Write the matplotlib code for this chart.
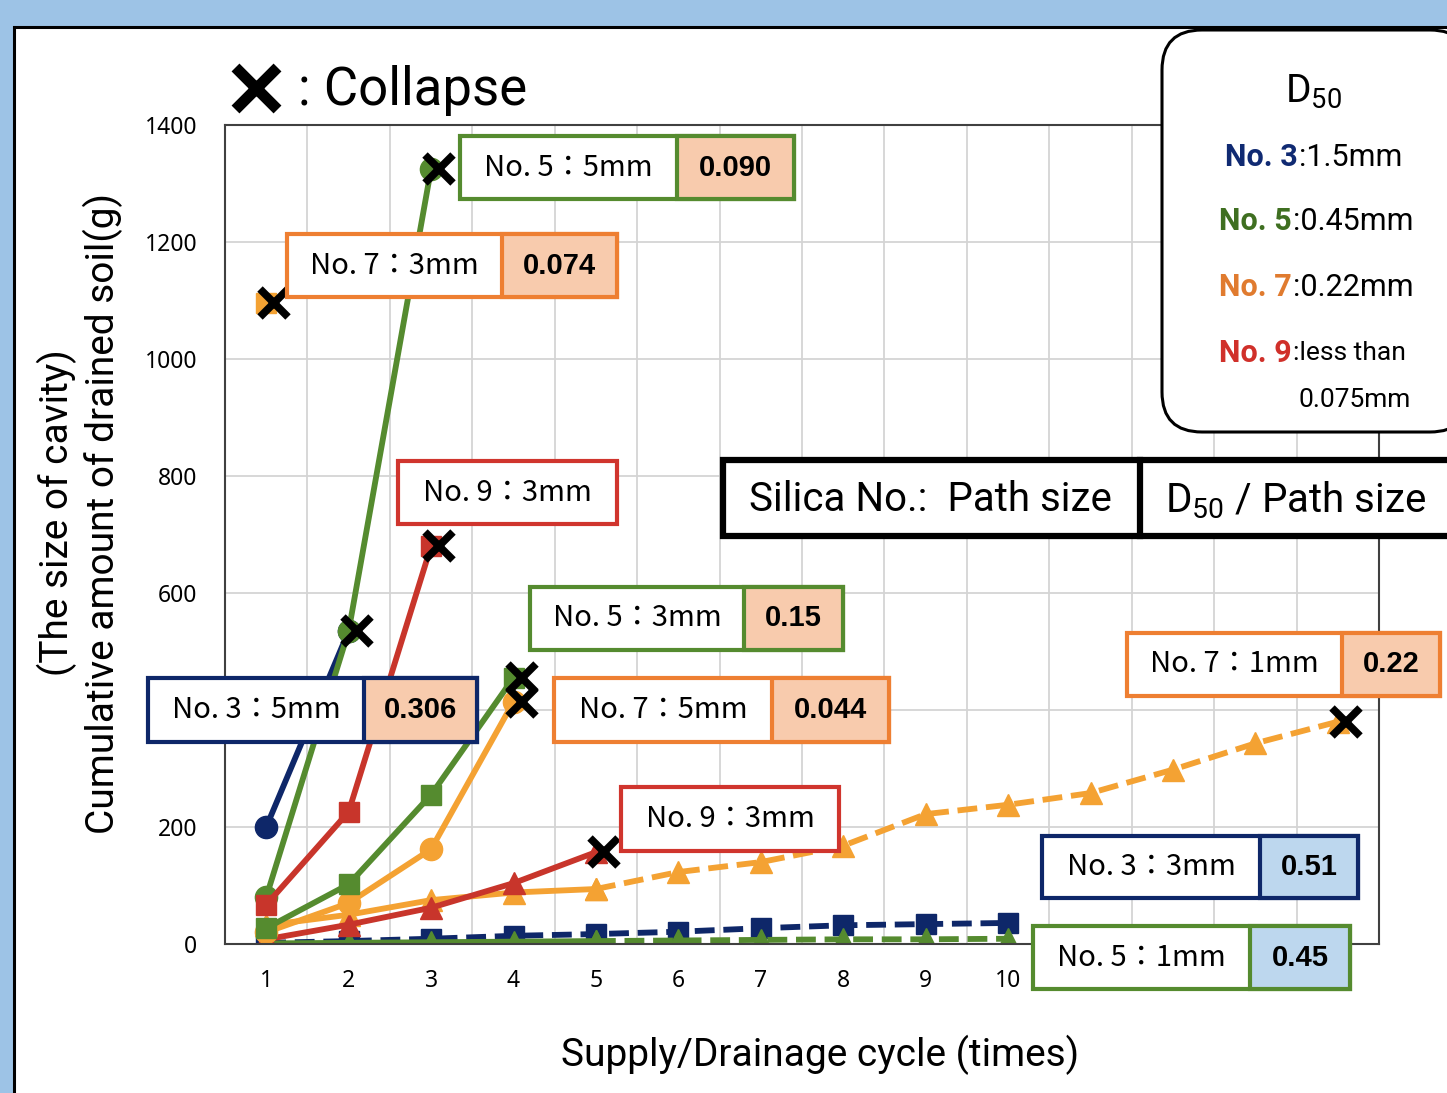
import numpy as np
import matplotlib
matplotlib.use('Agg')
import matplotlib.pyplot as plt
from matplotlib import font_manager
from matplotlib.patches import Rectangle, FancyBboxPatch
from matplotlib.lines import Line2D
from matplotlib.transforms import IdentityTransform

# ---- data (g of drained soil per cycle) ----
cycles = list(range(1, 15))
no3_5mm = [200, 535]                       # circles, collapse at 2
no5_5mm = [80, 535, 1325]                  # circles, collapse at 3
no7_3mm = [1095]                           # square, collapse at 1
no9_3mm_a = [67, 226, 680]                 # squares, collapse at 3
no5_3mm = [27, 102, 255, 455]              # squares, collapse at 4
no7_5mm = [20, 70, 162, 414]               # circles, collapse at 4
no9_3mm_b = [8, 33, 62, 104, 157]          # triangles, collapse at 5
no7_1mm = [32, 50, 75, 88, 94, 123, 140, 168, 222, 238, 258, 298, 343, 380]
no3_3mm = [2, 5, 9, 14, 17, 21, 27, 32, 34, 36]
no5_1mm = [1, 2, 3, 4, 5, 6, 7, 8, 8, 9]
xtick_labels = [str(i) for i in range(1, 11)]
yticks = list(range(0, 1401, 200))
ytick_labels = ['0', '200', '', '600', '800', '1000', '1200', '1400']  # 400 sits under a box

NAVY = '#0E2769'
GREEN = '#558B2F'
ORANGE = '#F4A233'
RED = '#C8352B'
OR_EDGE = '#EE7F32'
RED_EDGE = '#D0352E'
PEACH = '#F8CBAD'
LBLUE = '#BDD7EE'


def has_font(name):
    try:
        font_manager.findfont(name, fallback_to_default=False)
        return True
    except Exception:
        return False


NARROW = 'Liberation Sans Narrow' if has_font('Liberation Sans Narrow') else 'Roboto'
CJK = 'Noto Sans CJK JP'
plt.rcParams['mathtext.fontset'] = 'custom'
plt.rcParams['mathtext.rm'] = NARROW
plt.rcParams['mathtext.default'] = 'regular'

W, H = 1447, 1093
fig = plt.figure(figsize=(W / 100, H / 100), dpi=100)
fig.patch.set_facecolor('#9DC3E6')
PIX = IdentityTransform()


def rect(x0, y0, x1, y1, **kw):
    r = Rectangle((x0, H - y1), x1 - x0, y1 - y0, transform=PIX, **kw)
    fig.add_artist(r)
    return r


def ftext(x, y, s, **kw):
    return fig.text(x / W, 1 - y / H, s, **kw)


# white panel with black frame
rect(14, 27, W + 20, H + 20, facecolor='white', edgecolor='black', lw=2.2, zorder=-1)

ax = fig.add_axes([225 / W, 1 - 944 / H, (1379 - 225) / W, (944 - 125) / H])
ax.set_xlim(0.5, 14.5)
ax.set_ylim(0, 1400)
ax.set_xticks(range(1, 11))
ax.set_xticklabels(xtick_labels)
ax.set_xticks(np.arange(1.5, 14.5, 1), minor=True)
ax.set_yticks(yticks)
ax.set_yticklabels(ytick_labels)
ax.grid(which='minor', axis='x', color='#D4D4D4', lw=1.3)
ax.grid(which='major', axis='y', color='#D4D4D4', lw=1.3)
ax.tick_params(which='both', length=0)
ax.tick_params(axis='x', pad=18, labelsize=16.5)
ax.tick_params(axis='y', pad=20, labelsize=16.5)
for lab in ax.get_xticklabels() + ax.get_yticklabels():
    lab.set_family('Noto Sans')
for sp in ax.spines.values():
    sp.set_color('#404040')
    sp.set_linewidth(1.5)

LW = 4.2
MS = 16
DASH = (0, (3.4, 1.5))


def x_of(s):
    return cycles[:len(s)]


# dashed long-running series
ax.plot(x_of(no3_3mm), no3_3mm, color=NAVY, lw=LW, ls=DASH, marker='s', ms=MS - 1)
ax.plot(x_of(no5_1mm)[:5], no5_1mm[:5], color=GREEN, lw=LW, marker='^', ms=MS)
ax.plot(x_of(no5_1mm)[4:], no5_1mm[4:], color=GREEN, lw=LW, ls=DASH, marker='^', ms=MS)
ax.plot(x_of(no7_1mm)[:5], no7_1mm[:5], color=ORANGE, lw=LW, marker='^', ms=MS)
ax.plot(x_of(no7_1mm)[4:], no7_1mm[4:], color=ORANGE, lw=LW, ls=DASH, marker='^', ms=MS)
ax.plot(x_of(no9_3mm_b), no9_3mm_b, color=RED, lw=LW, marker='^', ms=MS)
ax.plot(x_of(no7_5mm), no7_5mm, color=ORANGE, lw=LW, marker='o', ms=MS)
ax.plot(x_of(no5_3mm), no5_3mm, color=GREEN, lw=LW, marker='s', ms=MS - 1)
ax.plot(x_of(no3_5mm), no3_5mm, color=NAVY, lw=LW, marker='o', ms=MS)
ax.plot(x_of(no5_5mm), no5_5mm, color=GREEN, lw=LW, marker='o', ms=MS)
ax.plot(x_of(no9_3mm_a), no9_3mm_a, color=RED, lw=LW, marker='s', ms=MS - 1)
ax.plot(x_of(no7_3mm), no7_3mm, color=ORANGE, lw=LW, marker='s', ms=MS - 1)

# collapse marks at the last point of each collapsed test
collapsed = [no3_5mm, no5_5mm, no7_3mm, no9_3mm_a, no5_3mm, no7_5mm, no9_3mm_b, no7_1mm]
for s in collapsed:
    ax.plot(len(s) + 0.1, s[-1], marker='x', color='black', ms=20, mew=5.5,
            ls='none', clip_on=False, zorder=4)

# axis titles
ftext(80, 513, '(The size of cavity)\nCumulative amount of drained soil(g)', rotation=90,
      ha='center', va='center', multialignment='center', fontsize=28, linespacing=1.2,
      family=NARROW)
ftext(820, 1055, 'Supply/Drainage cycle (times)', ha='center', va='center', fontsize=28,
      family=NARROW)

# collapse key
fig.add_artist(Line2D([256], [H - 88], marker='x', ms=30, mew=8, color='black', transform=PIX))
ftext(298, 90, ': Collapse', ha='left', va='center', fontsize=38, family=NARROW)


def label_box(x0, y0, x1, y1, text, edge, value=None, split=None, fill=None):
    rect(x0, y0, x1, y1, facecolor='white', edgecolor=edge, lw=3, zorder=5)
    right = split if value else x1
    ftext((x0 + right) / 2, (y0 + y1) / 2, text, ha='center', va='center',
          fontsize=21, family=[CJK, 'DejaVu Sans'], zorder=6)
    if value:
        rect(split, y0, x1, y1, facecolor=fill, edgecolor=edge, lw=3, zorder=5)
        ftext((split + x1) / 2, (y0 + y1) / 2, value, ha='center', va='center',
              fontsize=21, fontweight='bold', family='Liberation Sans', zorder=6)


label_box(460, 136, 794, 199, 'No. 5：5mm', GREEN, '0.090', 677, PEACH)
label_box(287, 234, 617, 297, 'No. 7：3mm', OR_EDGE, '0.074', 502, PEACH)
label_box(398, 461, 617, 524, 'No. 9：3mm', RED_EDGE)
label_box(530, 587, 843, 650, 'No. 5：3mm', GREEN, '0.15', 744, PEACH)
label_box(148, 678, 477, 742, 'No. 3：5mm', NAVY, '0.306', 364, PEACH)
label_box(554, 678, 889, 742, 'No. 7：5mm', OR_EDGE, '0.044', 772, PEACH)
label_box(621, 787, 839, 851, 'No. 9：3mm', RED_EDGE)
label_box(1127, 633, 1440, 696, 'No. 7：1mm', OR_EDGE, '0.22', 1342, PEACH)
label_box(1042, 836, 1358, 898, 'No. 3：3mm', NAVY, '0.51', 1260, LBLUE)
label_box(1033, 926, 1350, 989, 'No. 5：1mm', GREEN, '0.45', 1250, LBLUE)

# header box
rect(723, 460, W + 30, 536, facecolor='white', edgecolor='black', lw=4.5, zorder=5)
fig.add_artist(Line2D([1140, 1140], [H - 460, H - 536], color='black', lw=4.5,
                      transform=PIX, zorder=6))
ftext(930, 500, 'Silica No.:  Path size', ha='center', va='center', fontsize=29,
      family=NARROW, zorder=7)
ftext(1296, 500, 'D$_{50}$ / Path size', ha='center', va='center', fontsize=29,
      family=NARROW, zorder=7)

# D50 key
fig.add_artist(FancyBboxPatch((1162, H - 432), 1470 - 1162, 432 - 30,
                              boxstyle='round,pad=0,rounding_size=40', transform=PIX,
                              facecolor='white', edgecolor='black', lw=2.2, zorder=5))
ftext(1313, 92, 'D$_{50}$', ha='center', va='center', fontsize=28, family=NARROW, zorder=6)
d50_rows = [('No. 3', ':1.5mm', '#102A72', 157, 1298),
            ('No. 5', ':0.45mm', '#3F6F21', 221, 1292),
            ('No. 7', ':0.22mm', '#E07B2F', 287, 1292),
            ('No. 9', ':less than', '#D0302A', 353, 1292)]
for name, val, col, yy, xs in d50_rows:
    ftext(xs, yy, name, ha='right', va='center', fontsize=22, fontweight='bold',
          color=col, family=NARROW, zorder=6)
    ftext(xs + 1, yy, val, ha='left', va='center',
          fontsize=22 if 'less' not in val else 19, family=NARROW, zorder=6)
ftext(1411, 400, '0.075mm', ha='right', va='center', fontsize=19, family=NARROW, zorder=6)

fig.savefig('out.png', dpi=100, facecolor=fig.get_facecolor())
